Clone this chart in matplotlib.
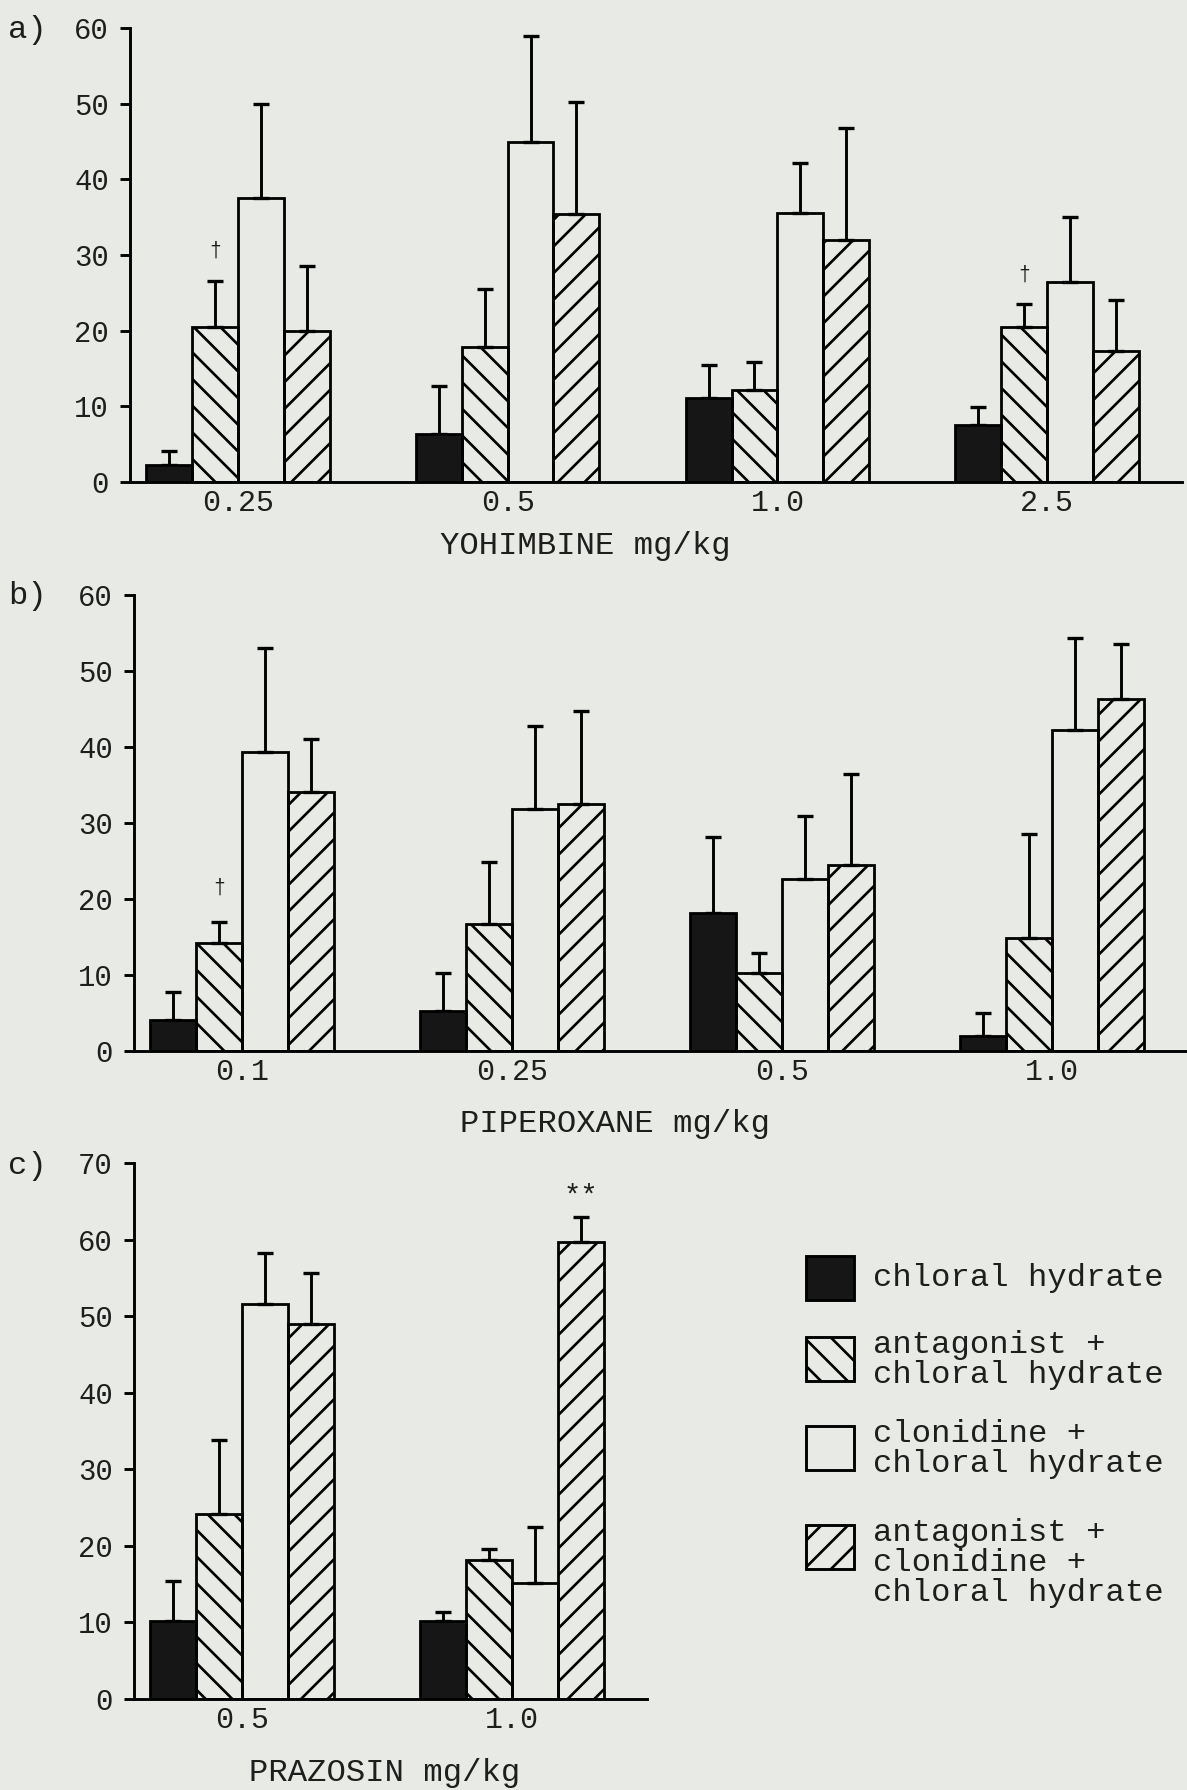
import numpy as np
import matplotlib
matplotlib.use("Agg")
import matplotlib.pyplot as plt
from matplotlib.patches import Rectangle

W, H = 1187, 1790
DPI = 160

plt.rcParams['font.family'] = ['Liberation Mono', 'DejaVu Sans Mono', 'DejaVu Sans']
plt.rcParams['hatch.linewidth'] = 1.2
INK = '#161616'
PAPER = '#e8ebe5'

groups = ['chloral hydrate',
          'antagonist +\nchloral hydrate',
          'clonidine +\nchloral hydrate',
          'antagonist +\nclonidine +\nchloral hydrate']
faces = [INK, 'none', 'none', 'none']
hatches = [None, '\\\\', None, '//']

# a) yohimbine
yoh_doses = ['0.25', '0.5', '1.0', '2.5']
yoh_ch = [2.2, 6.3, 11.1, 7.5]
yoh_ch_err = [1.9, 6.4, 4.4, 2.4]
yoh_ant = [20.5, 17.8, 12.2, 20.5]
yoh_ant_err = [6.1, 7.7, 3.6, 3.0]
yoh_clon = [37.5, 45.0, 35.6, 26.4]
yoh_clon_err = [12.5, 14.0, 6.5, 8.6]
yoh_both = [20.0, 35.4, 32.0, 17.3]
yoh_both_err = [8.6, 14.8, 14.8, 6.8]
yoh_dagger = [0, 3]

# b) piperoxane
pip_doses = ['0.1', '0.25', '0.5', '1.0']
pip_ch = [4.1, 5.2, 18.2, 2.0]
pip_ch_err = [3.6, 5.1, 10.0, 3.0]
pip_ant = [14.2, 16.7, 10.3, 14.9]
pip_ant_err = [2.8, 8.2, 2.6, 13.7]
pip_clon = [39.3, 31.8, 22.6, 42.3]
pip_clon_err = [13.7, 10.9, 8.3, 12.1]
pip_both = [34.1, 32.5, 24.5, 46.3]
pip_both_err = [7.0, 12.2, 11.9, 7.2]
pip_dagger = [0]

# c) prazosin
pra_doses = ['0.5', '1.0']
pra_ch = [10.2, 10.2]
pra_ch_err = [5.2, 1.2]
pra_ant = [24.2, 18.2]
pra_ant_err = [9.6, 1.4]
pra_clon = [51.6, 15.2]
pra_clon_err = [6.6, 7.3]
pra_both = [49.0, 59.7]
pra_both_err = [6.6, 3.3]
pra_stars = [1]


fig = plt.figure(figsize=(W / DPI, H / DPI), dpi=DPI, facecolor=PAPER)


def px_axes(l, t, r, b):
    # axes box given in pixels from the top-left corner
    return fig.add_axes([l / W, 1 - b / H, (r - l) / W, (b - t) / H])


def panel(ax, doses, series, errs, ymax):
    n = len(doses)
    x = np.arange(n)
    w = 0.17
    for k, (vals, err) in enumerate(zip(series, errs)):
        pos = x + (k - 1.5) * w
        ax.bar(pos, vals, width=w, color=faces[k], edgecolor='black',
               hatch=hatches[k], linewidth=1.25, zorder=3)
        ax.errorbar(pos, vals, yerr=[np.zeros(n), err], fmt='none',
                    ecolor='black', elinewidth=1.3, capsize=3.4,
                    capthick=1.5, zorder=2)
    ax.set_xlim(-0.40, n - 0.5)
    ax.set_ylim(0, ymax)
    ax.set_facecolor('none')
    for s in ['top', 'right']:
        ax.spines[s].set_visible(False)
    for s in ['left', 'bottom']:
        ax.spines[s].set_linewidth(1.3)
    ax.set_yticks(np.arange(0, ymax + 1, 10))
    ax.tick_params(axis='y', length=4.5, width=1.3, pad=5, labelsize=13,
                   labelcolor='#1e1e1e')
    ax.set_xticks(x)
    ax.set_xticklabels(doses)
    ax.tick_params(axis='x', length=0, pad=3, labelsize=13.5,
                   labelcolor='#1e1e1e')
    return x, w


def mark(ax, x, w, k, idx, txt, ypos, size):
    for i in idx:
        ax.text(x[i] + (k - 1.5) * w, ypos[i], txt, ha='center', va='center',
                fontsize=size, color='#1e1e1e', zorder=4)


# a) yohimbine
ax_a = px_axes(130, 28, 1182, 482)
xa, wa = panel(ax_a, yoh_doses, [yoh_ch, yoh_ant, yoh_clon, yoh_both],
               [yoh_ch_err, yoh_ant_err, yoh_clon_err, yoh_both_err], 60)
yoh_top = np.array(yoh_ant) + np.array(yoh_ant_err) + 4.0
mark(ax_a, xa, wa, 1, yoh_dagger, '\u2020', yoh_top, 9)

# b) piperoxane
ax_b = px_axes(134, 595, 1187, 1051)
xb, wb = panel(ax_b, pip_doses, [pip_ch, pip_ant, pip_clon, pip_both],
               [pip_ch_err, pip_ant_err, pip_clon_err, pip_both_err], 60)
pip_top = np.array(pip_ant) + np.array(pip_ant_err) + 4.5
mark(ax_b, xb, wb, 1, pip_dagger, '\u2020', pip_top, 9)

# c) prazosin
ax_c = px_axes(134, 1163, 647, 1699)
xc, wc = panel(ax_c, pra_doses, [pra_ch, pra_ant, pra_clon, pra_both],
               [pra_ch_err, pra_ant_err, pra_clon_err, pra_both_err], 70)
pra_top = np.array(pra_both) + np.array(pra_both_err) + 2.6
mark(ax_c, xc, wc, 3, pra_stars, '**', pra_top, 13)


# axis titles and panel letters, placed in figure pixels
def ftext(x, y, s, size=14.5, ha='center'):
    fig.text(x / W, 1 - y / H, s, ha=ha, va='center', fontsize=size,
             color='#1e1e1e')


ftext(585, 546, 'YOHIMBINE mg/kg')
ftext(615, 1124, 'PIPEROXANE mg/kg')
ftext(385, 1773, 'PRAZOSIN mg/kg')
ftext(8, 30, 'a)', ha='left')
ftext(8, 596, 'b)', ha='left')
ftext(8, 1166, 'c)', ha='left')

# key
lg = px_axes(790, 1230, 1187, 1620)
lg.set_xlim(790, 1187)
lg.set_ylim(1620, 1230)
lg.axis('off')
box_top = [1256, 1337, 1426, 1525]
for k, (lab, top) in enumerate(zip(groups, box_top)):
    lg.add_patch(Rectangle((806, top), 48, 44, facecolor=faces[k],
                           edgecolor='black', hatch=hatches[k], linewidth=1.3))
    lines = lab.split('\n')
    first = top + (22 if len(lines) == 1 else 8)
    for j, line in enumerate(lines):
        lg.text(873, first + 30 * j, line, ha='left', va='center',
                fontsize=14.5, color='#1e1e1e')

fig.savefig('out.png', dpi=DPI, facecolor=PAPER)
